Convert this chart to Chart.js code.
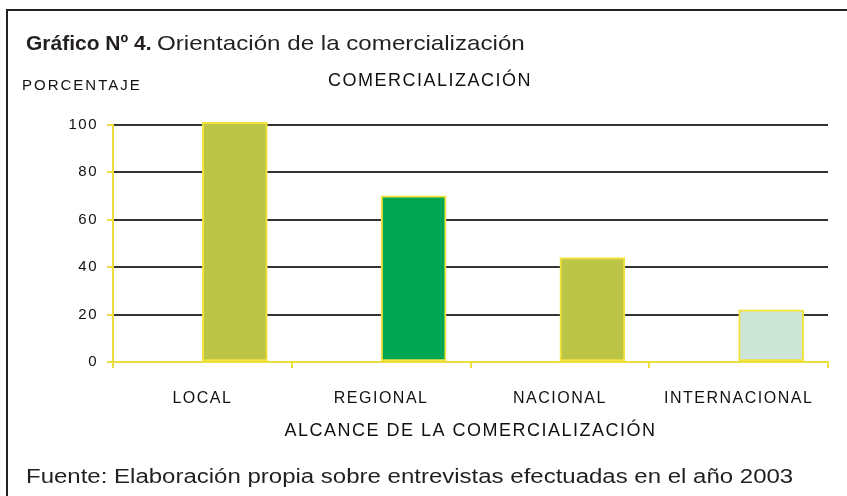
<!DOCTYPE html>
<html>
<head>
<meta charset="utf-8">
<script src="https://cdn.jsdelivr.net/npm/chart.js@4"></script>
<style>
  html, body { margin: 0; padding: 0; background: #fff; overflow: hidden; }
  #stage { position: relative; width: 847px; height: 496px; overflow: hidden; }
  #frame { position: absolute; left: 6px; top: 9px; width: 900px; height: 600px; border: 2px solid #222; }
  #chart { position: absolute; left: 0; top: 0; }
  .note { position: absolute; left: 26px; font-family: "Liberation Sans", Arial, sans-serif; color: #231f20; line-height: 24px; white-space: nowrap; }
  .wide { display: inline-block; transform-origin: left center; }
  #caption { top: 31px; font-size: 21px; }
  #caption .wide { transform: scaleX(1.15); }
  #source { top: 464px; font-size: 20px; transform: scaleX(1.2); transform-origin: left center; }
</style>
</head>
<body>
<div id="stage">
  <div id="frame"></div>
  <canvas id="chart" width="847" height="496"></canvas>
  <div id="caption" class="note"><b>Gráfico Nº 4.</b> <span class="wide">Orientación de la comercialización</span></div>
  <div id="source" class="note">Fuente: Elaboración propia sobre entrevistas efectuadas en el año 2003</div>
</div>
<script>
const categories = ['LOCAL', 'REGIONAL', 'NACIONAL', 'INTERNACIONAL'];
const percentages = [101, 70, 44, 22];
const barColors = ['#bcc446', '#00a651', '#bcc446', '#cce5d6'];
const yTicks = [0, 20, 40, 60, 80, 100];

const yellow = '#ebde3e';
const font = 'Liberation Sans';

// the old chart has wide, spaced letters
const spacing = {
    id: 'spacing',
    beforeUpdate(chart) { chart.ctx.letterSpacing = '1.5px'; },
    beforeDraw(chart) { chart.ctx.letterSpacing = '1.5px'; }
};

// y axis name sits flat above the axis
const yName = {
    id: 'yName',
    afterDraw(chart) {
        const ctx = chart.ctx;
        ctx.save();
        ctx.letterSpacing = '2px';
        ctx.font = '15px "' + font + '"';
        ctx.fillStyle = '#111';
        ctx.textBaseline = 'middle';
        ctx.fillText('PORCENTAJE', 22, 86);
        ctx.restore();
    }
};

new Chart(document.getElementById('chart'), {
    type: 'bar',
    data: {
        labels: categories,
        datasets: [
            {
                // empty slot, pushes the bars right of the label
                label: '',
                data: categories.map(() => null)
            },
            {
                label: 'COMERCIALIZACIÓN',
                data: percentages,
                backgroundColor: barColors,
                borderColor: '#f2e33c',
                borderWidth: 2,
                borderSkipped: false,
                clip: false
            }
        ]
    },
    plugins: [spacing, yName],
    options: {
        responsive: false,
        animation: false,
        devicePixelRatio: 1,
        categoryPercentage: 0.65,
        barThickness: 65,
        layout: { padding: { left: 32, right: 19, top: 0, bottom: 54 } },
        plugins: {
            legend: { display: false },
            tooltip: { enabled: false },
            title: {
                display: true,
                text: 'COMERCIALIZACIÓN',
                color: '#111',
                font: { family: font, size: 18, weight: 'normal' },
                padding: { top: 70, bottom: 33 }
            }
        },
        scales: {
            x: {
                offset: true,
                afterFit(s) { s.height = 80; },
                border: { color: yellow, width: 2 },
                grid: {
                    offset: true,
                    drawOnChartArea: false,
                    tickColor: yellow,
                    tickLength: 6,
                    lineWidth: 2
                },
                ticks: {
                    color: '#111',
                    font: { family: font, size: 16 },
                    padding: 21,
                    maxRotation: 0
                },
                title: {
                    display: true,
                    text: 'ALCANCE DE LA COMERCIALIZACIÓN',
                    color: '#111',
                    font: { family: font, size: 18 },
                    padding: 0
                }
            },
            y: {
                min: 0,
                max: 100,
                afterFit(s) { s.width = 113 - 32; },
                afterBuildTicks(s) { s.ticks = yTicks.map(v => ({ value: v })); },
                border: { color: yellow, width: 2 },
                grid: {
                    color: c => c.tick.value === 0 ? 'rgba(0,0,0,0)' : '#333',
                    tickColor: yellow,
                    tickLength: 6,
                    lineWidth: 2
                },
                ticks: {
                    color: '#111',
                    font: { family: font, size: 15 },
                    padding: 9
                }
            }
        }
    }
});
</script>
</body>
</html>
